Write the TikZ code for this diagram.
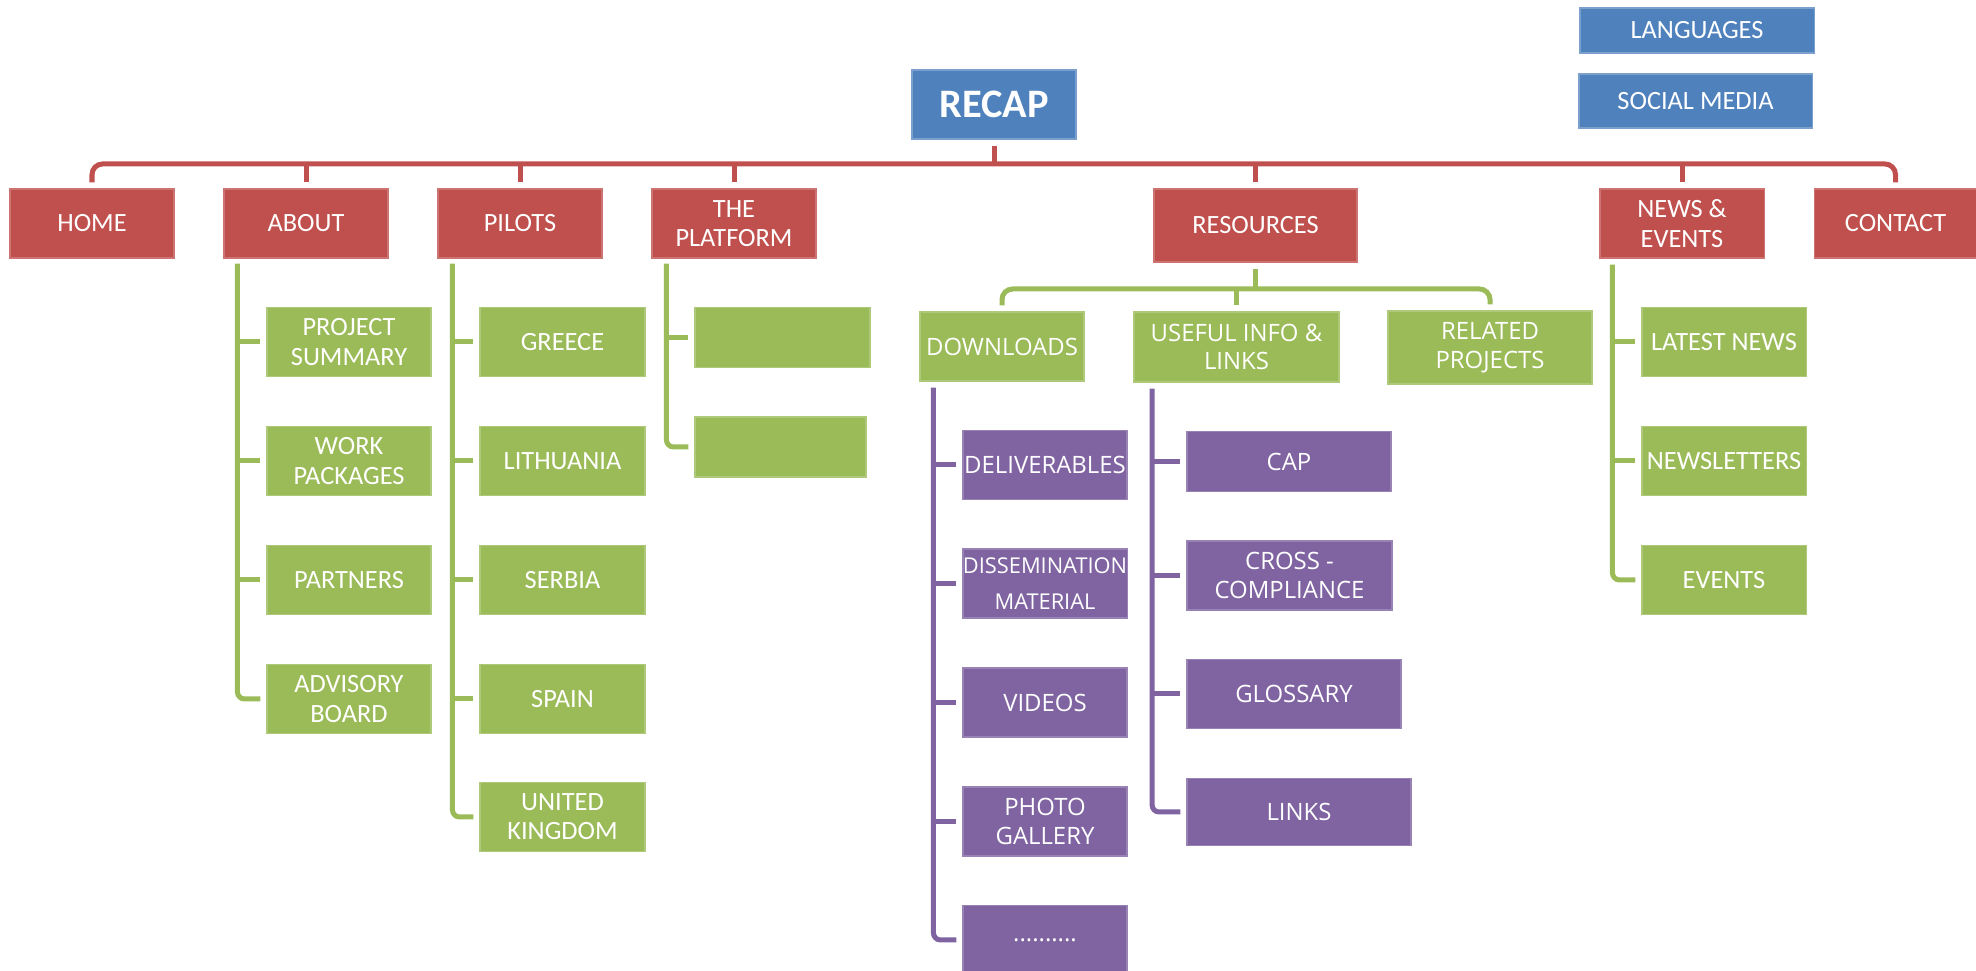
\documentclass[tikz,border=0pt]{standalone}
\usepackage{fontspec}
\setmainfont{Carlito}
\newfontfamily\osans{Open Sans}
\usetikzlibrary{calc}
\definecolor{cred}{HTML}{C0504D}
\definecolor{cgreen}{HTML}{9BBB59}
\definecolor{cpurple}{HTML}{8064A2}
\definecolor{cblue}{HTML}{4F81BD}
\tikzset{
 sz/.style 2 args={minimum width=#1*0.01cm, minimum height=#2*0.01cm},
 box/.style={inner sep=0pt, align=center, text=white, line width=0.3pt, font=\fontsize{7.5}{8.3}\selectfont},
 bluebox/.style={box, fill=cblue, draw=cblue!75!white},
 redbox/.style={box, fill=cred, draw=cred!80!white},
 greenbox/.style={box, fill=cgreen, draw=cgreen!80!white},
 greenos/.style={greenbox, font=\osans\fontsize{6.8}{8.2}\selectfont},
 purplebox/.style={box, fill=cpurple, draw=cpurple!80!white, font=\osans\fontsize{6.8}{8.5}\selectfont},
 conn/.style={line width=0.05cm},
 redline/.style={conn, draw=cred},
 greenline/.style={conn, draw=cgreen},
 purpleline/.style={conn, draw=cpurple},
}
\begin{document}
\begin{tikzpicture}[x=0.01cm, y=-0.01cm]
\useasboundingbox (0,0) rectangle (1976,971);

% top level
\node[bluebox, sz={164}{69}, font=\bfseries\fontsize{11.5}{13}\selectfont] (recap) at (994,104.5) {RECAP};
\node[bluebox, sz={234}{45}] (lang) at (1697,30.5) {LANGUAGES};
\node[bluebox, sz={233}{54}] (social) at (1695.5,101) {SOCIAL MEDIA};

\node[redbox, sz={164}{69}] (home) at (92,223.5) {HOME};
\node[redbox, sz={164}{69}] (about) at (306,223.5) {ABOUT};
\node[redbox, sz={164}{69}] (pilots) at (520,223.5) {PILOTS};
\node[redbox, sz={164}{69}] (platform) at (734,223.5) {THE\\PLATFORM};
\node[redbox, sz={203}{73}] (resources) at (1255.5,225.5) {RESOURCES};
\node[redbox, sz={164}{69}] (news) at (1682,223.5) {NEWS \&\\EVENTS};
\node[redbox, sz={163}{69}] (contact) at (1895.5,223.5) {CONTACT};

% about
\node[greenbox, sz={164}{69}] (psum) at (349,342) {PROJECT\\SUMMARY};
\node[greenbox, sz={164}{69}] (wp) at (349,461) {WORK\\PACKAGES};
\node[greenbox, sz={164}{69}] (part) at (349,580) {PARTNERS};
\node[greenbox, sz={164}{69}] (advb) at (349,699) {ADVISORY\\BOARD};

% pilots
\node[greenbox, sz={165}{69}] (greece) at (562.5,342) {GREECE};
\node[greenbox, sz={165}{69}] (lith) at (562.5,461) {LITHUANIA};
\node[greenbox, sz={165}{69}] (serbia) at (562.5,580) {SERBIA};
\node[greenbox, sz={165}{69}] (spain) at (562.5,699) {SPAIN};
\node[greenbox, sz={165}{69}] (uk) at (562.5,817) {UNITED\\KINGDOM};

% platform
\node[greenbox, sz={175}{60}] (pf1) at (782.5,337.5) {};
\node[greenbox, sz={171}{60}] (pf2) at (780.5,447) {};

% resources
\node[greenos, sz={164}{69}] (downloads) at (1002,346.5) {DOWNLOADS};
\node[greenos, sz={205}{70}] (useful) at (1236.5,347) {USEFUL INFO \&\\LINKS};
\node[greenos, sz={204}{73}] (related) at (1490,347.5) {RELATED\\PROJECTS};

\node[purplebox, sz={164}{69}] (deliv) at (1045,465) {DELIVERABLES};
\node[purplebox, sz={164}{69}, font=\osans\fontsize{6.2}{10.4}\selectfont] (dissem) at (1045,583.5) {DISSEMINATION\\MATERIAL};
\node[purplebox, sz={164}{69}] (videos) at (1045,702.5) {VIDEOS};
\node[purplebox, sz={164}{69}] (photo) at (1045,821.5) {PHOTO\\GALLERY};
\node[purplebox, sz={164}{69}] (dots) at (1045,940) {..........};

\node[purplebox, sz={204}{60}] (cap) at (1289,461.5) {CAP};
\node[purplebox, sz={205}{69}] (cross) at (1289.5,575.5) {CROSS -\\COMPLIANCE};
\node[purplebox, sz={214}{69}] (gloss) at (1294,694) {GLOSSARY};
\node[purplebox, sz={224}{67}] (links) at (1299,812) {LINKS};

% news
\node[greenbox, sz={164}{69}] (latest) at (1724,342) {LATEST NEWS};
\node[greenbox, sz={164}{69}] (newsl) at (1724,461) {NEWSLETTERS};
\node[greenbox, sz={164}{69}] (events) at (1724,580) {EVENTS};

% red bus
\coordinate (bus) at (0,164);
\draw[redline] ($(recap.south)+(0,6)$) -- (recap.south |- bus);
\draw[redline, rounded corners=3] ($(home.north)+(0,-6)$) |- (recap.south |- bus) -| ($(contact.north)+(0,-6)$);
\foreach \c in {about,pilots,platform,resources,news}
  \draw[redline] (\c.north |- bus) -- ($(\c.north)+(0,-6)$);

% about list
\coordinate (al) at ($(about.south west)+(14,5)$);
\draw[greenline, rounded corners=2] (al) |- ($(advb.west)+(-6,0)$);
\foreach \c in {psum,wp,part}
  \draw[greenline] (al |- \c.west) -- ($(\c.west)+(-6,0)$);

% pilots list
\coordinate (pl) at ($(pilots.south west)+(15,5)$);
\draw[greenline, rounded corners=2] (pl) |- ($(uk.west)+(-6,0)$);
\foreach \c in {greece,lith,serbia,spain}
  \draw[greenline] (pl |- \c.west) -- ($(\c.west)+(-6,0)$);

% platform list
\coordinate (fl) at ($(platform.south west)+(15,5)$);
\draw[greenline, rounded corners=2] (fl) |- ($(pf2.west)+(-6,0)$);
\draw[greenline] (fl |- pf1.west) -- ($(pf1.west)+(-6,0)$);

% resources
\coordinate (rbus) at (0,289);
\draw[greenline] ($(resources.south)+(0,6)$) -- (resources.south |- rbus);
\draw[greenline, rounded corners=3] ($(downloads.north)+(0,-6)$) |- (resources.south |- rbus) -| ($(related.north)+(0,-6)$);
\draw[greenline] (useful.north |- rbus) -- ($(useful.north)+(0,-6)$);

% downloads list
\coordinate (dl) at ($(downloads.south west)+(14,6)$);
\draw[purpleline, rounded corners=2] (dl) |- ($(dots.west)+(-6,0)$);
\foreach \c in {deliv,dissem,videos,photo}
  \draw[purpleline] (dl |- \c.west) -- ($(\c.west)+(-6,0)$);

% useful list
\coordinate (ul) at ($(useful.south west)+(18.6,6)$);
\draw[purpleline, rounded corners=2] (ul) |- ($(links.west)+(-6,0)$);
\foreach \c in {cap,cross,gloss}
  \draw[purpleline] (ul |- \c.west) -- ($(\c.west)+(-6,0)$);

% news list
\coordinate (nl) at ($(news.south west)+(13,6)$);
\draw[greenline, rounded corners=2] (nl) |- ($(events.west)+(-6,0)$);
\foreach \c in {latest,newsl}
  \draw[greenline] (nl |- \c.west) -- ($(\c.west)+(-6,0)$);
\end{tikzpicture}
\end{document}
